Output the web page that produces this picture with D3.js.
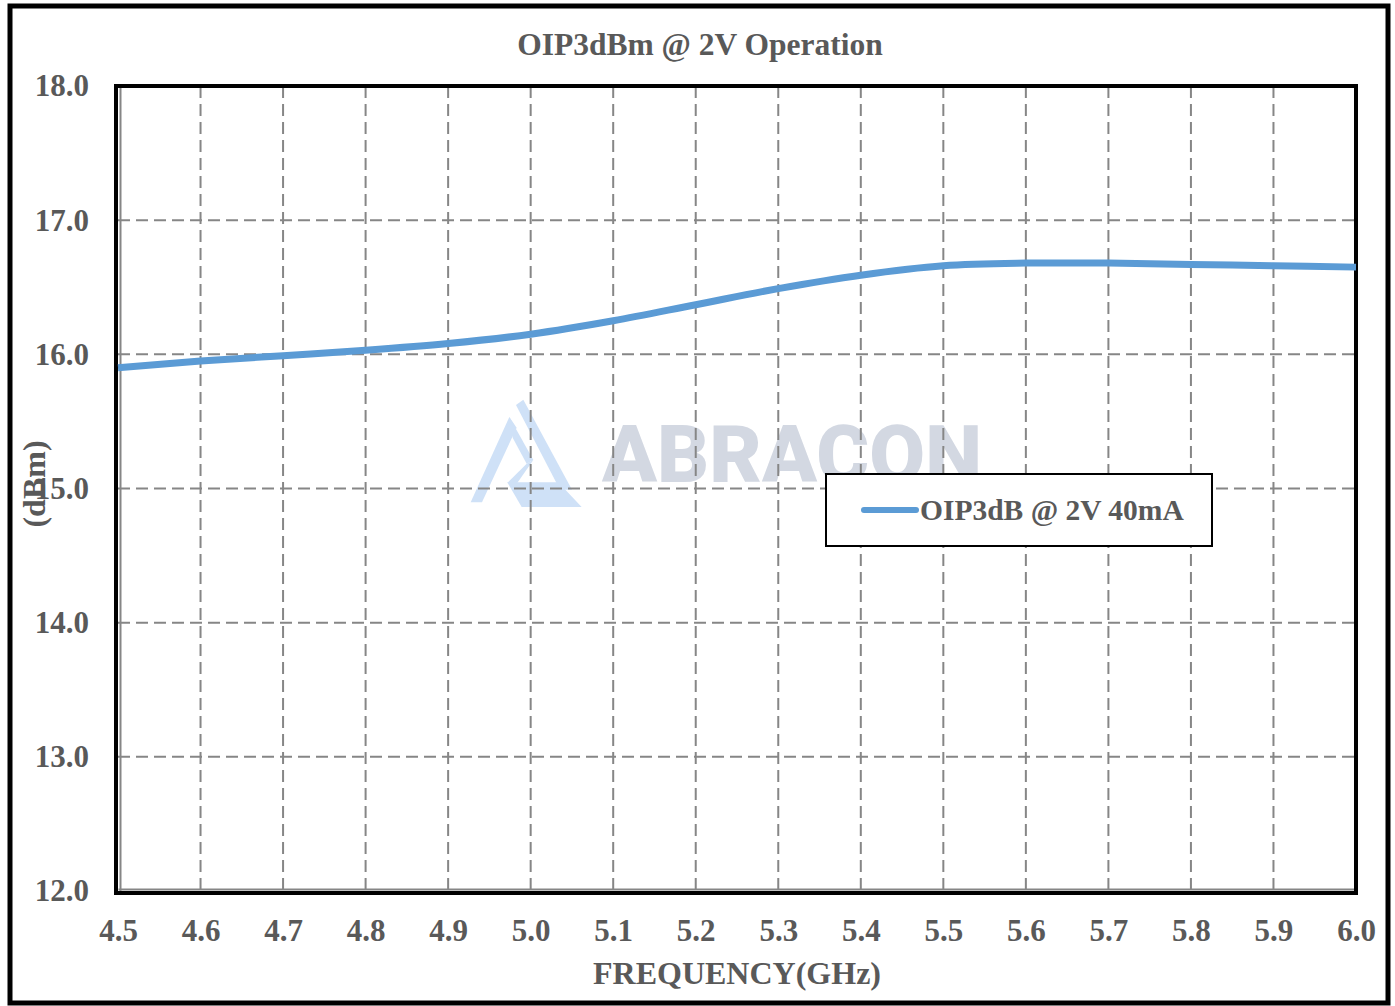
<!DOCTYPE html>
<html><head><meta charset="utf-8">
<script src="https://cdn.jsdelivr.net/npm/d3@7"></script>
<style>html,body{margin:0;padding:0;background:#fff;}svg{display:block;}</style>
</head><body>
<svg id="chart" width="1395" height="1006"></svg>
<script>
const frequencies = [4.5,4.6,4.7,4.8,4.9,5.0,5.1,5.2,5.3,5.4,5.5,5.6,5.7,5.8,5.9,6.0];
const oip3Values  = [15.90,15.95,15.99,16.03,16.08,16.15,16.25,16.37,16.49,16.59,16.66,16.68,16.68,16.67,16.66,16.65];
const xTicks = [4.5,4.6,4.7,4.8,4.9,5.0,5.1,5.2,5.3,5.4,5.5,5.6,5.7,5.8,5.9,6.0];
const yTicks = [12,13,14,15,16,17,18];
const chartTitle = "OIP3dBm @ 2V Operation";
const seriesName = "OIP3dB @ 2V 40mA";
const xTitle = "FREQUENCY(GHz)";
const yTitle = "(dBm)";

const svg = d3.select("#chart");
const W = 1395, H = 1006;
const m = {left:118, right:1356, top:86, bottom:891};
const serif = "'Liberation Serif','Times New Roman',serif";
const txt = "#595959";

svg.append("rect").attr("x",0).attr("y",0).attr("width",W).attr("height",H).attr("fill","#fff");
// outer frame
svg.append("rect").attr("x",10).attr("y",6).attr("width",1378).attr("height",997)
  .attr("fill","none").attr("stroke","#000").attr("stroke-width",5);

const x = d3.scaleLinear().domain([4.5,6.0]).range([m.left,m.right]);
const y = d3.scaleLinear().domain([12,18]).range([m.bottom,m.top]);

// watermark (logo shape drawn in a local 3x frame, then scaled)
const wm = svg.append("g").attr("class","watermark");
const logo = wm.append("g").attr("transform","translate(450,395) scale(0.3333)");
const logoColor = "#CFE1F7";
const logoShapes = [
  [[178,66],[200,98],[96,322],[62,322]],
  [[178,66],[250,195],[230,206],[188,128]],
  [[250,195],[196,272],[172,264],[230,206]],
  [[172,262],[325,262],[395,336],[215,336]],
  [[198,30],[220,14],[366,284],[330,284]]
];
logo.selectAll("polygon").data(logoShapes).join("polygon")
  .attr("points",d=>d.map(p=>p.join(",")).join(" ")).attr("fill",logoColor);
wm.append("text").attr("x",602).attr("y",482).attr("font-family","Roboto, 'DejaVu Sans', sans-serif")
  .attr("font-weight",900).attr("font-size",80).attr("fill","#D3D8E2")
  .attr("textLength",380).attr("lengthAdjust","spacingAndGlyphs").text("ABRACON");

// grid
const grid = svg.append("g").attr("stroke","#868686").attr("stroke-width",2).attr("stroke-dasharray","12,6");
grid.selectAll(".vg").data(xTicks.slice(1,-1)).join("line")
  .attr("x1",d=>x(d)).attr("x2",d=>x(d)).attr("y1",m.top).attr("y2",m.bottom);
grid.selectAll(".hg").data(yTicks.slice(1,-1)).join("line")
  .attr("x1",m.left).attr("x2",m.right).attr("y1",d=>y(d)).attr("y2",d=>y(d));

// axes (gray)
const xAxis = d3.axisBottom(x).tickValues(xTicks).tickSize(0).tickFormat(d3.format(".1f"));
const gx = svg.append("g").attr("transform",`translate(0,${m.bottom-2})`).call(xAxis);
gx.select(".domain").attr("stroke","#868686").attr("stroke-width",2);
gx.selectAll("text").attr("font-family",serif).attr("font-weight","bold").attr("font-size",31)
  .attr("fill",txt).attr("dy",0).attr("y",52);
const yAxis = d3.axisLeft(y).tickValues(yTicks).tickSize(0).tickFormat(d3.format(".1f"));
const gy = svg.append("g").attr("transform",`translate(${m.left+2},0)`).call(yAxis);
gy.select(".domain").attr("stroke","#868686").attr("stroke-width",2);
gy.selectAll("text").attr("font-family",serif).attr("font-weight","bold").attr("font-size",31)
  .attr("fill",txt).attr("x",-31).attr("dy","0.32em");

// plot frame
svg.append("rect").attr("x",m.left-2).attr("y",m.top).attr("width",m.right-m.left+2).attr("height",m.bottom-m.top+2)
  .attr("fill","none").attr("stroke","#000").attr("stroke-width",4);

// data line
const line = d3.line().x((d,i)=>x(frequencies[i])).y(d=>y(d)).curve(d3.curveCatmullRom.alpha(0.5));
svg.append("path").datum(oip3Values).attr("d",line).attr("fill","none")
  .attr("stroke","#5B9BD5").attr("stroke-width",7).attr("stroke-linecap","butt");

// title
svg.append("text").attr("x",700).attr("y",55).attr("text-anchor","middle").attr("font-family",serif)
  .attr("font-weight","bold").attr("font-size",31.5).attr("fill",txt).text(chartTitle);
// axis titles
svg.append("text").attr("x",737).attr("y",984).attr("text-anchor","middle").attr("font-family",serif)
  .attr("font-weight","bold").attr("font-size",32).attr("fill",txt).text(xTitle);
svg.append("text").attr("transform","translate(45,484) rotate(-90)").attr("text-anchor","middle")
  .attr("font-family",serif).attr("font-weight","bold").attr("font-size",32).attr("fill",txt).text(yTitle);

// legend
const lg = svg.append("g");
lg.append("rect").attr("x",826).attr("y",474).attr("width",386).attr("height",72)
  .attr("fill","#fff").attr("stroke","#000").attr("stroke-width",2);
lg.append("line").attr("x1",864).attr("x2",916).attr("y1",510).attr("y2",510)
  .attr("stroke","#5B9BD5").attr("stroke-width",6).attr("stroke-linecap","round");
lg.append("text").attr("x",920).attr("y",520).attr("font-family",serif).attr("font-weight","bold")
  .attr("font-size",29.5).attr("fill",txt).text(seriesName);
</script>
</body></html>
